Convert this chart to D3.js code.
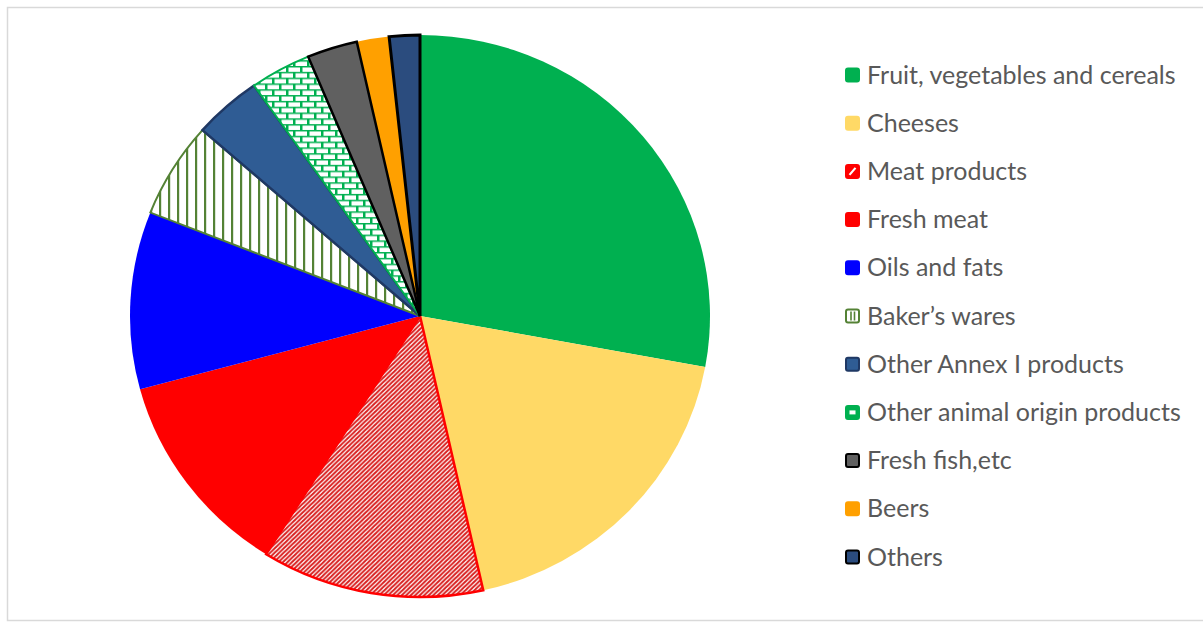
<!DOCTYPE html>
<html>
<head>
<meta charset="utf-8">
<script src="https://cdn.jsdelivr.net/npm/d3@7"></script>
<style>
  html, body { margin: 0; padding: 0; background: #fff; }
  svg { display: block; }
</style>
</head>
<body>
<svg id="chart" width="1203" height="624"></svg>
<script>
// Share of products by category (percent)
const categories = [
  "Fruit, vegetables and cereals",
  "Cheeses",
  "Meat products",
  "Fresh meat",
  "Oils and fats",
  "Baker\u2019s wares",
  "Other Annex I products",
  "Other animal origin products",
  "Fresh fish,etc",
  "Beers",
  "Others"
];
const shares = [27.9, 18.6, 12.4, 11.9, 10.2, 5.5, 3.8, 3.4, 2.8, 1.8, 1.7];

// Fill, outline and outline width for each category
const fills = ["#00B050", "#FFD966", "url(#hatchRed)", "#FF0000", "#0000FF",
  "url(#stripeGreen)", "#2F5C94", "url(#brickGreen)", "#606060", "#FFA000", "#2B4C7E"];
const outlines = ["none", "none", "#FF0000", "none", "none",
  "#548235", "#1F3864", "#00B050", "#000000", "none", "#000000"];
const outlineWidths = [0, 0, 2.5, 0, 0, 2, 2.5, 2, 2.5, 0, 3];

const svg = d3.select("#chart");
const defs = svg.append("defs");

// Dense upward diagonal hatch (red on white)
const hatch = defs.append("pattern").attr("id", "hatchRed")
  .attr("patternUnits", "userSpaceOnUse").attr("width", 4.5).attr("height", 4.5);
hatch.append("rect").attr("width", 4.5).attr("height", 4.5).attr("fill", "#fff");
hatch.append("path").attr("d", "M-1,1 l2,-2 M0,4.5 l4.5,-4.5 M3.5,5.5 l2,-2")
  .attr("stroke", "#D81E1E").attr("stroke-width", 2);

// Vertical stripes (green on white)
const stripe = defs.append("pattern").attr("id", "stripeGreen")
  .attr("patternUnits", "userSpaceOnUse").attr("width", 9).attr("height", 9);
stripe.append("rect").attr("width", 9).attr("height", 9).attr("fill", "#fff");
stripe.append("rect").attr("x", 0).attr("width", 2.2).attr("height", 9).attr("fill", "#548235");

// Brick pattern (white bricks, green mortar)
const brick = defs.append("pattern").attr("id", "brickGreen")
  .attr("patternUnits", "userSpaceOnUse").attr("width", 14).attr("height", 12);
brick.append("rect").attr("width", 14).attr("height", 12).attr("fill", "#00B050");
brick.append("rect").attr("x", 1.5).attr("y", 1.5).attr("width", 11.5).attr("height", 4.5).attr("fill", "#fff");
brick.append("rect").attr("x", -5.5).attr("y", 7.5).attr("width", 11.5).attr("height", 4.5).attr("fill", "#fff");
brick.append("rect").attr("x", 8.5).attr("y", 7.5).attr("width", 11.5).attr("height", 4.5).attr("fill", "#fff");

// Chart frame
svg.append("rect")
  .attr("x", 7.5).attr("y", 7.5).attr("width", 1200).attr("height", 613)
  .attr("fill", "none").attr("stroke", "#D9D9D9").attr("stroke-width", 1.5);

// Pie
const radius = 290;
const pie = d3.pie().sort(null).value(d => d.value);
const arc = d3.arc().innerRadius(0).outerRadius(radius);
const data = categories.map((c, i) => ({ name: c, value: shares[i], i }));
const arcs = pie(data);

const g = svg.append("g")
  .attr("transform", `translate(420,316) scale(1,${281 / 290})`);

// Plain slices first, outlined slices on top
const order = arcs.slice().sort((a, b) => (outlineWidths[a.data.i] > 0) - (outlineWidths[b.data.i] > 0));
g.selectAll("path.slice").data(order).join("path")
  .attr("class", "slice")
  .attr("d", arc)
  .attr("fill", d => fills[d.data.i])
  .attr("stroke", d => outlines[d.data.i])
  .attr("stroke-width", d => outlineWidths[d.data.i])
  .attr("stroke-linejoin", "miter");

// Legend
const legendTop = 75, legendStep = 48.2;
const legend = svg.append("g").attr("class", "legend");
const rows = legend.selectAll("g.row").data(data).join("g")
  .attr("class", "row")
  .attr("transform", (d, i) => `translate(845,${legendTop + i * legendStep})`);

// Small key swatches: solid colour, with a simple mark for the patterned slices
const keyFill = ["#00B050", "#FFD966", "#FF0000", "#FF0000", "#0000FF",
  "#fff", "#2F5C94", "#00B050", "#606060", "#FFA000", "#2B4C7E"];
rows.append("rect")
  .attr("x", 1).attr("y", -6.5).attr("width", 13).attr("height", 13).attr("rx", 2)
  .attr("fill", d => keyFill[d.i])
  .attr("stroke", d => outlines[d.i] === "none" ? keyFill[d.i] : outlines[d.i])
  .attr("stroke-width", 2);

// Marks inside the patterned keys
rows.filter(d => d.i === 2).append("path")
  .attr("d", "M4.5,3.5 L10.5,-3.5").attr("stroke", "#fff").attr("stroke-width", 2.2);
rows.filter(d => d.i === 5).append("path")
  .attr("d", "M6,-4.5 V4.5 M9.5,-4.5 V4.5").attr("stroke", "#548235").attr("stroke-width", 1.6);
rows.filter(d => d.i === 7).append("rect")
  .attr("x", 4.5).attr("y", -2).attr("width", 6).attr("height", 4).attr("fill", "#fff");

rows.append("text")
  .attr("x", 22).attr("y", 8.5)
  .attr("font-family", "Lato, 'Open Sans', sans-serif")
  .attr("font-size", 25)
  .attr("fill", "#595959")
  .text(d => d.name);
</script>
</body>
</html>
